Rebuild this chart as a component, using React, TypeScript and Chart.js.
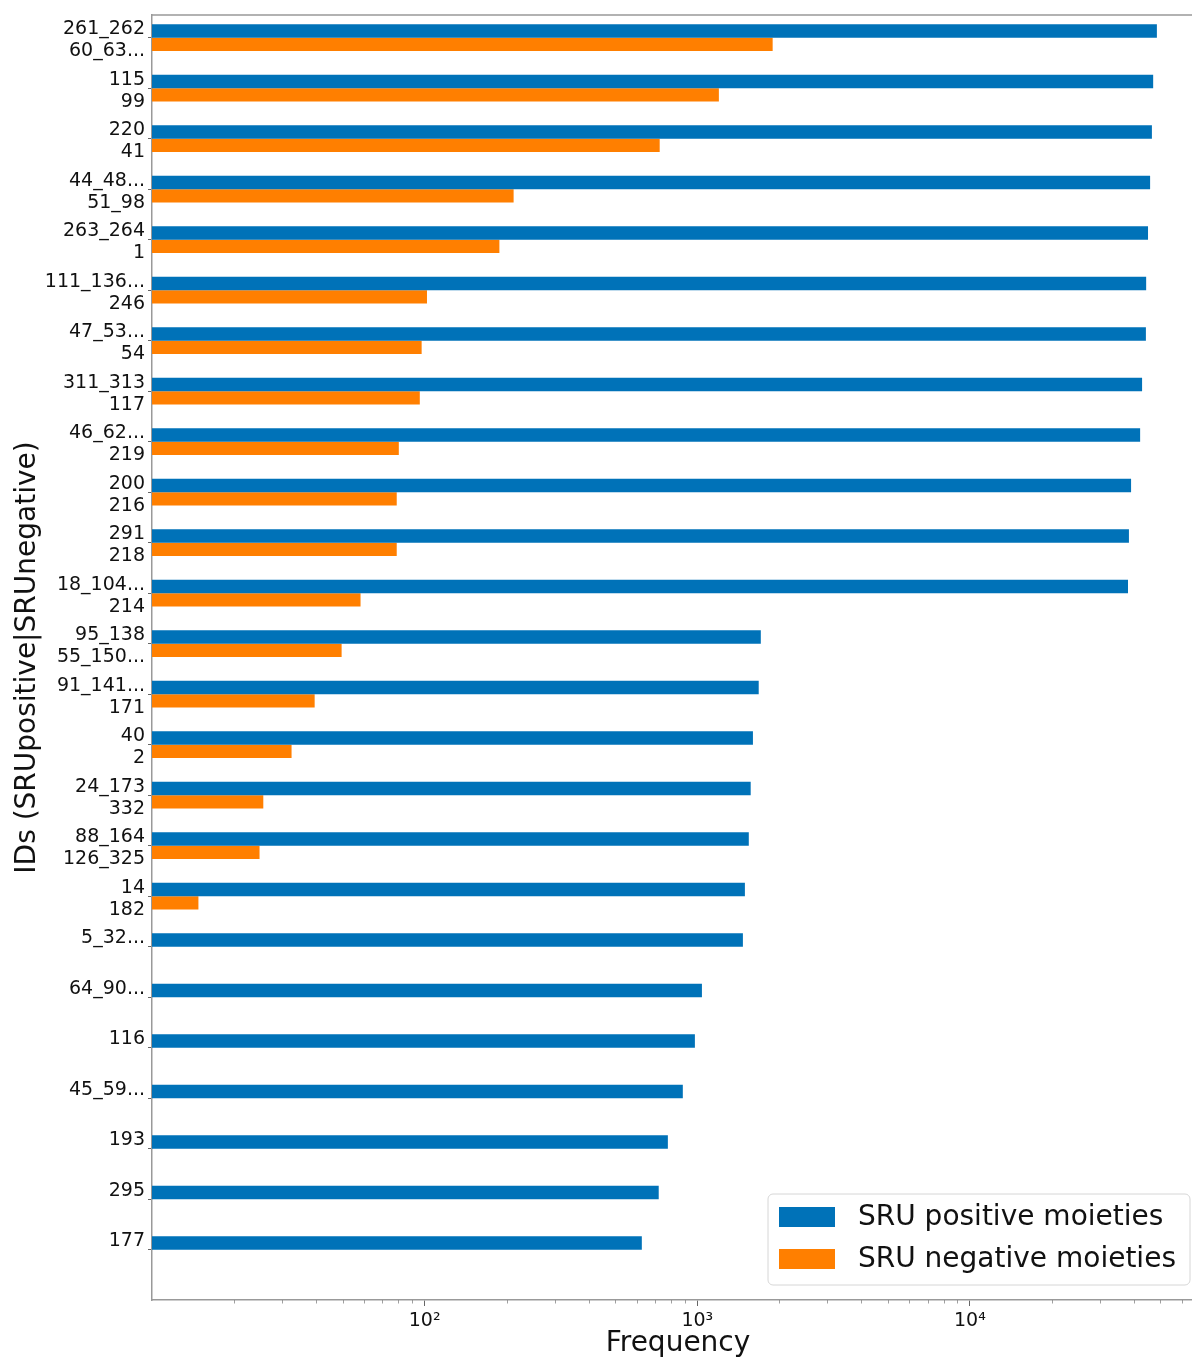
import React, { useEffect, useRef } from "react";
import { Chart, registerables } from "chart.js";

Chart.register(...registerables);

const positiveIds = ["261_262", "115", "220", "44_48...", "263_264", "111_136...", "47_53...", "311_313", "46_62...", "200", "291", "18_104...", "95_138", "91_141...", "40", "24_173", "88_164", "14", "5_32...", "64_90...", "116", "45_59...", "193", "295", "177"];
const negativeIds = ["60_63...", "99", "41", "51_98", "1", "246", "54", "117", "219", "216", "218", "214", "55_150...", "171", "2", "332", "126_325", "182", "", "", "", "", "", "", ""];
const positiveFreq = [48500, 47000, 46500, 45800, 45000, 44300, 44200, 42800, 42100, 39000, 38300, 38000, 1710, 1680, 1600, 1570, 1545, 1495, 1470, 1040, 980, 885, 780, 722, 626];
const negativeFreq: (number | null)[] = [1890, 1200, 728, 212, 188, 102, 97.5, 96, 80.4, 79, 79, 58.2, 49.6, 39.5, 32.5, 25.6, 24.8, 14.8, null, null, null, null, null, null, null];
const xMajorTicks = [100, 1000, 10000];
const xMajorLabels = ["10²", "10³", "10⁴"];
const xMinorDecades = [10, 100, 1000, 10000];
const xMinorMultipliers = [2, 3, 4, 5, 6, 7, 8, 9];
const seriesNames = ["SRU positive moieties", "SRU negative moieties"];
const seriesColors = ["#0072B8", "#FF7F00"];

const FONT = "'DejaVu Sans', sans-serif";
const AXIS_COLOR = "#999999";
const CANVAS_W = 1210;
const CANVAS_H = 1358;

export default function App() {
  const ref = useRef<HTMLCanvasElement | null>(null);

  useEffect(() => {
    const canvas = ref.current;
    if (!canvas) return;

    const minorTicks: number[] = [];
    xMinorDecades.forEach((d) => xMinorMultipliers.forEach((m) => minorTicks.push(d * m)));

    const framePlugin = {
      id: "customLegendFrame",
      afterDraw(chart: any) {
        const ctx = chart.ctx;
        const area = chart.chartArea;
        ctx.save();
        // top spine
        ctx.strokeStyle = AXIS_COLOR;
        ctx.lineWidth = 1.5;
        ctx.beginPath();
        ctx.moveTo(area.left, area.top);
        ctx.lineTo(area.right, area.top);
        ctx.stroke();
        // minor ticks on x axis
        const xs = chart.scales.x;
        ctx.strokeStyle = "#888888";
        ctx.lineWidth = 0.8;
        minorTicks.forEach((v) => {
          if (v <= xs.min || v >= xs.max) return;
          const px = Math.round(xs.getPixelForValue(v)) + 0.5;
          ctx.beginPath();
          ctx.moveTo(px, area.bottom);
          ctx.lineTo(px, area.bottom + 3.5);
          ctx.stroke();
        });
        // legend
        const bx = 768, by = 1194, bw = 422, bh = 91, r = 5;
        ctx.fillStyle = "rgba(255,255,255,0.85)";
        ctx.strokeStyle = "#d6d6d6";
        ctx.lineWidth = 1;
        ctx.beginPath();
        ctx.moveTo(bx + r, by);
        ctx.lineTo(bx + bw - r, by);
        ctx.arcTo(bx + bw, by, bx + bw, by + r, r);
        ctx.lineTo(bx + bw, by + bh - r);
        ctx.arcTo(bx + bw, by + bh, bx + bw - r, by + bh, r);
        ctx.lineTo(bx + r, by + bh);
        ctx.arcTo(bx, by + bh, bx, by + bh - r, r);
        ctx.lineTo(bx, by + r);
        ctx.arcTo(bx, by, bx + r, by, r);
        ctx.closePath();
        ctx.fill();
        ctx.stroke();
        ctx.font = `28px ${FONT}`;
        ctx.textBaseline = "middle";
        ctx.textAlign = "left";
        seriesNames.forEach((name, i) => {
          const cy = 1217 + i * 42;
          ctx.fillStyle = seriesColors[i];
          ctx.fillRect(779, cy - 10, 56, 20);
          ctx.fillStyle = "#111111";
          ctx.fillText(name, 858, cy + 1);
        });
        ctx.restore();
      },
    };

    const chart = new Chart(canvas, {
      type: "bar",
      data: {
        datasets: [
          {
            label: seriesNames[0],
            data: positiveFreq.map((v, i) => ({ x: v, y: i })),
            backgroundColor: seriesColors[0],
            borderWidth: 0,
          },
          {
            label: seriesNames[1],
            data: negativeFreq.map((v, i) => ({ x: v, y: i })),
            backgroundColor: seriesColors[1],
            borderWidth: 0,
          },
        ],
      },
      plugins: [framePlugin],
      options: {
        indexAxis: "y",
        responsive: false,
        animation: false,
        events: [],
        layout: { padding: { top: 15, right: CANVAS_W - 1204, bottom: 0, left: 0 } },
        datasets: { bar: { categoryPercentage: 0.53, barPercentage: 1.0 } },
        plugins: {
          legend: { display: false },
          tooltip: { enabled: false },
        },
        scales: {
          x: {
            type: "logarithmic",
            position: "bottom",
            min: 10,
            max: 72200,
            afterBuildTicks: (scale: any) => {
              scale.ticks = xMajorTicks.map((v) => ({ value: v, major: true }));
            },
            afterFit: (scale: any) => {
              scale.height = 58;
              scale.paddingLeft = 0;
              scale.paddingRight = 0;
            },
            ticks: {
              autoSkip: false,
              maxRotation: 0,
              padding: 4,
              color: "#111111",
              font: { family: FONT, size: 19 },
              callback: (value: any) => {
                const idx = xMajorTicks.indexOf(Number(value));
                return idx >= 0 ? xMajorLabels[idx] : "";
              },
            },
            grid: {
              drawOnChartArea: false,
              drawTicks: true,
              tickLength: 6,
              tickColor: "#666666",
              tickWidth: 1,
            },
            border: { display: true, color: AXIS_COLOR, width: 1.5 },
            title: {
              display: true,
              text: "Frequency",
              color: "#111111",
              font: { family: FONT, size: 28 },
              padding: { top: 0, bottom: -3 },
            },
          },
          y: {
            type: "linear",
            reverse: true,
            offset: false,
            min: -0.45,
            max: 24.996,
            afterBuildTicks: (scale: any) => {
              scale.ticks = positiveIds.map((_, i) => ({ value: i }));
            },
            afterFit: (scale: any) => {
              scale.width = 152;
              scale.paddingTop = 0;
              scale.paddingBottom = 0;
            },
            ticks: {
              autoSkip: false,
              padding: 3,
              labelOffset: 2.5,
              color: "#111111",
              font: { family: FONT, size: 19, lineHeight: 1.15 },
              callback: (value: any) => {
                const i = Math.round(Number(value));
                return [positiveIds[i] ?? "", negativeIds[i] ?? ""];
              },
            },
            grid: {
              offset: false,
              drawOnChartArea: false,
              drawTicks: true,
              tickLength: 4,
              tickColor: "#666666",
            },
            border: { display: true, color: AXIS_COLOR, width: 1.5 },
            title: {
              display: true,
              text: "IDs (SRUpositive|SRUnegative)",
              color: "#111111",
              font: { family: FONT, size: 28 },
              padding: { top: 11, bottom: 0 },
            },
          },
        },
      },
    } as any);

    return () => chart.destroy();
  }, []);

  return (
    <div style={{ position: "absolute", left: 0, top: 0, width: 1192, height: CANVAS_H, overflow: "hidden", background: "#ffffff" }}>
      <canvas ref={ref} width={CANVAS_W} height={CANVAS_H} style={{ display: "block", width: CANVAS_W, height: CANVAS_H }} />
    </div>
  );
}
